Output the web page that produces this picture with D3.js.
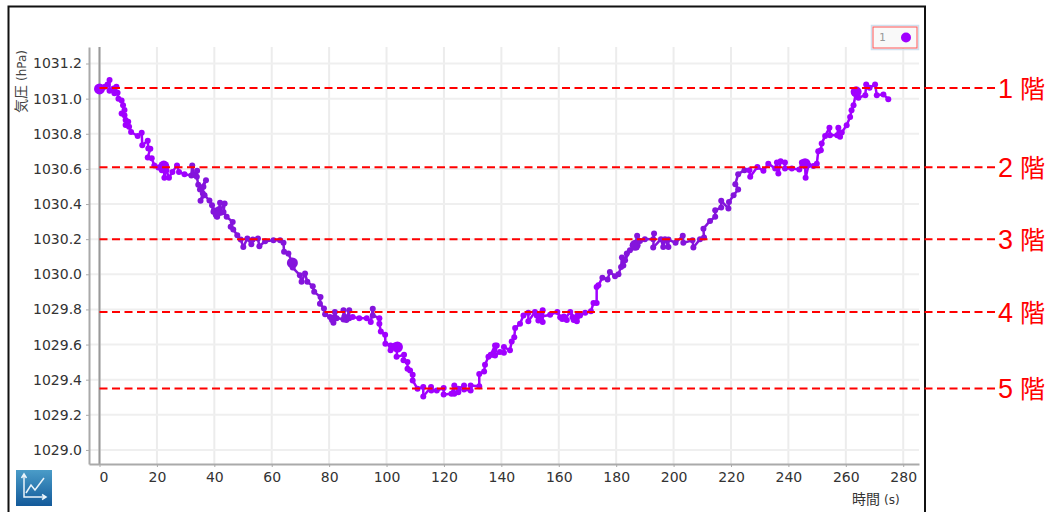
<!DOCTYPE html>
<html>
<head>
<meta charset="utf-8">
<style>
  html, body { margin: 0; padding: 0; background: #fff; overflow: hidden; }
  .axis text { font-family: "DejaVu Sans", sans-serif; font-size: 14px; fill: #333; }
</style>
<script src="https://cdn.jsdelivr.net/npm/d3@7"></script>
</head>
<body>
<div id="chart"></div>
<script>
// values
var seconds = [0,1.9,2.8,3.5,3.5,4.9,5.9,5.2,6.3,6.6,7.7,8.2,8.7,7.7,8.7,9.1,10,9.1,10.3,11,13.3,14.7,14.9,16.8,17,17.7,16.8,18.2,19.1,20.5,21.7,22.4,22.6,23.3,24.2,25.4,27,27.7,29.6,32,32.3,33,34,33.9,34.4,35,37.1,36.2,36,35.2,36.6,38.3,39.2,39.7,41,39.9,40.5,41.5,40.8,42.3,42,41.4,43.6,43.2,44.3,46.4,45.7,46.6,48,49.2,50.1,51.5,52.9,53.4,55.2,55.7,57.7,60.6,62.9,64.1,64.3,65.8,67.2,67.3,69.8,70.4,71.6,72.4,74.3,74.8,77,76.8,78.2,78.6,80.3,81.5,82,82.6,81,81.8,85,85,85.9,85.3,86,87,87,88.2,90.5,93.1,94.5,95.2,95.2,97.5,97.5,98,99.5,99.6,101.4,101.4,102.9,103.8,103.5,106.1,105.9,107.3,107.3,108.2,109.1,109.1,110.8,112.8,112.8,115.5,115.6,117.5,119.9,119.9,122.6,123.6,123.6,125,125,127,127,129.3,129.3,132.3,132.3,134,134.3,135.5,136.3,137.8,137,138.4,137.8,139.5,140.9,140.9,143,143.6,144.5,144.8,146.5,147.7,149.4,149.4,151.7,152.3,152.9,153.5,154.4,154.4,153.7,152.8,153.3,154,153,157,159.5,160.5,161.2,161.8,162.8,162.2,164,165.7,164.8,165.2,166.5,166.3,167.4,169.2,171.2,172.1,173.2,173.2,173.8,175.2,177,177.8,179.6,180.8,181.7,182,182.5,183.7,183.1,184.8,186.6,187.3,188.3,190,192.9,193.2,192.9,195.6,196.4,197,198.2,198.2,200.7,203.2,203.4,206.6,206.9,209.2,210.6,210.4,212.7,214.5,214.5,216.6,216.6,219.1,219.3,220.9,222.5,221.5,222.5,224.7,226.4,226.7,229.2,231.3,233,235.4,236,236.5,237.3,238.8,238.8,241.2,243.8,244.7,245.8,246,247,248.7,249.9,250.4,251.3,251.6,252.8,254.3,254.5,257,257.4,258,258.6,260.3,261.5,262,262.7,263.6,264.4,266.8,267.1,268.3,270.2,270.8,273.1,274.8];
var pressure = [1031.055,1031.068,1031.08,1031.106,1031.045,1031.058,1031.068,1031.03,1031.034,1031,1030.99,1030.963,1030.935,1030.916,1030.906,1030.878,1030.868,1030.85,1030.84,1030.81,1030.787,1030.806,1030.735,1030.76,1030.716,1030.715,1030.665,1030.66,1030.62,1030.608,1030.593,1030.616,1030.55,1030.593,1030.55,1030.583,1030.62,1030.583,1030.57,1030.563,1030.62,1030.565,1030.59,1030.555,1030.51,1030.483,1030.536,1030.498,1030.46,1030.418,1030.45,1030.42,1030.393,1030.356,1030.327,1030.365,1030.34,1030.37,1030.33,1030.35,1030.407,1030.346,1030.403,1030.355,1030.327,1030.298,1030.27,1030.255,1030.222,1030.198,1030.156,1030.204,1030.171,1030.198,1030.204,1030.16,1030.188,1030.194,1030.194,1030.179,1030.128,1030.118,1030.065,1030.038,1029.995,1029.957,1030.004,1029.957,1029.932,1029.9,1029.871,1029.833,1029.805,1029.772,1029.757,1029.724,1029.785,1029.75,1029.74,1029.755,1029.743,1029.795,1029.747,1029.76,1029.74,1029.795,1029.75,1029.757,1029.75,1029.75,1029.728,1029.804,1029.766,1029.75,1029.718,1029.675,1029.656,1029.605,1029.595,1029.567,1029.595,1029.586,1029.53,1029.542,1029.51,1029.5,1029.462,1029.452,1029.428,1029.396,1029.348,1029.358,1029.304,1029.358,1029.338,1029.338,1029.352,1029.316,1029.32,1029.367,1029.32,1029.329,1029.348,1029.367,1029.344,1029.338,1029.367,1029.363,1029.433,1029.447,1029.485,1029.53,1029.542,1029.595,1029.542,1029.595,1029.538,1029.557,1029.553,1029.586,1029.567,1029.618,1029.642,1029.694,1029.718,1029.766,1029.781,1029.732,1029.785,1029.766,1029.737,1029.775,1029.795,1029.728,1029.756,1029.77,1029.745,1029.775,1029.755,1029.77,1029.785,1029.756,1029.745,1029.76,1029.74,1029.747,1029.785,1029.747,1029.755,1029.74,1029.765,1029.732,1029.766,1029.781,1029.789,1029.837,1029.837,1029.928,1029.937,1029.981,1029.97,1030.013,1029.989,1030,1030.042,1030.095,1030.05,1030.118,1030.08,1030.137,1030.165,1030.22,1030.19,1030.2,1030.2,1030.232,1030.152,1030.2,1030.156,1030.2,1030.156,1030.198,1030.179,1030.219,1030.179,1030.194,1030.152,1030.2,1030.209,1030.26,1030.304,1030.327,1030.365,1030.38,1030.418,1030.375,1030.412,1030.45,1030.483,1030.513,1030.57,1030.593,1030.592,1030.555,1030.611,1030.589,1030.63,1030.602,1030.636,1030.574,1030.644,1030.636,1030.602,1030.602,1030.596,1030.636,1030.63,1030.549,1030.621,1030.617,1030.63,1030.7,1030.706,1030.744,1030.788,1030.834,1030.792,1030.792,1030.834,1030.783,1030.807,1030.849,1030.896,1030.934,1030.963,1031.039,1031.005,1031.02,1031.081,1031.062,1031.081,1031.02,1031.024,1030.997];
var bigSeconds = [0,22.4,67.2,103.8,186.6,245.8,263.6];
var darkSpans = [[32,88],[95,95.5],[175,226]];
var floors = ["1","2","3","4","5"];
var floorPressure = [1031.06,1030.61,1030.2,1029.785,1029.35];
var xTicks = d3.range(0,281,20);
var yTicks = [1029,1029.2,1029.4,1029.6,1029.8,1030,1030.2,1030.4,1030.6,1030.8,1031,1031.2];

var width = 1055, height = 512;
var svg = d3.select("#chart").append("svg")
	.attr("width", width)
	.attr("height", height)
	.style("display", "block");

// Scale
var xScale = d3.scaleLinear().domain([-3.66,285.5]).range([89,919]);
var yScale = d3.scaleLinear().domain([1028.92,1031.294]).range([464,47]);

// frame round the screenshot of the app (no bottom edge)
svg.append("path")
	.attr("d", "M8.5,512V6.5H925V512")
	.attr("fill", "none")
	.attr("stroke", "#111")
	.attr("stroke-width", 2);

// grid
svg.append("g").selectAll("line").data(xTicks).enter().append("line")
	.attr("x1", function(d){ return xScale(d); })
	.attr("x2", function(d){ return xScale(d); })
	.attr("y1", 47).attr("y2", 464)
	.attr("stroke", "#ececec").attr("stroke-width", 2);
svg.append("g").selectAll("line").data(yTicks).enter().append("line")
	.attr("x1", 89).attr("x2", 919)
	.attr("y1", function(d){ return yScale(d); })
	.attr("y2", function(d){ return yScale(d); })
	.attr("stroke", "#efefef").attr("stroke-width", 2);

// zero line
svg.append("line")
	.attr("x1", xScale(0)).attr("x2", xScale(0))
	.attr("y1", 47).attr("y2", 464)
	.attr("stroke", "#999").attr("stroke-width", 2);

// Axis
var xAxis = d3.axisBottom(xScale).tickValues(xTicks).tickSize(3).tickPadding(5).tickSizeOuter(0);
var yAxis = d3.axisLeft(yScale).tickValues(yTicks).tickSize(3).tickPadding(4).tickSizeOuter(0)
	.tickFormat(d3.format(".1f"));
var gx = svg.append("g").attr("class", "axis").attr("transform", "translate(0,464)").call(xAxis);
var gy = svg.append("g").attr("class", "axis").attr("transform", "translate(89,0)").call(yAxis);
gx.selectAll(".domain, .tick line").attr("stroke", "#aaa");
gy.selectAll(".domain, .tick line").attr("stroke", "#aaa");
gx.select(".domain").attr("stroke-width", 2);
gy.select(".domain").attr("stroke-width", 2);
gx.selectAll(".tick text").attr("dx", function(d){ return d === 0 ? 4 : 0; });

// axis labels
var cjk = '"Noto Sans CJK JP", sans-serif';
var yLabel = svg.append("text")
	.attr("transform", "translate(26,113) rotate(-90)")
	.attr("fill", "#444");
yLabel.append("tspan").attr("font-family", cjk).attr("font-size", 14).text("気圧");
yLabel.append("tspan").attr("font-family", "DejaVu Sans").attr("font-size", 12).attr("dx", 4).text("(hPa)");
var xLabel = svg.append("text")
	.attr("x", 852).attr("y", 504)
	.attr("fill", "#333");
xLabel.append("tspan").attr("font-family", cjk).attr("font-size", 14).text("時間");
xLabel.append("tspan").attr("font-family", "DejaVu Sans").attr("font-size", 12).attr("dx", 4).text("(s)");

// series
var points = seconds.map(function(s, i){ return {t: s, v: pressure[i]}; });
function pointColor(d){
	var dark = darkSpans.some(function(s){ return d.t >= s[0] && d.t <= s[1]; });
	return dark ? "#8414dc" : "#a000ff";
}
svg.append("g").selectAll("line").data(d3.pairs(points)).enter().append("line")
	.attr("x1", function(d){ return xScale(d[0].t); })
	.attr("y1", function(d){ return yScale(d[0].v); })
	.attr("x2", function(d){ return xScale(d[1].t); })
	.attr("y2", function(d){ return yScale(d[1].v); })
	.attr("stroke", function(d){ return pointColor(d[0]); })
	.attr("stroke-width", 2.5);
svg.append("g").selectAll("circle").data(points).enter().append("circle")
	.attr("cx", function(d){ return xScale(d.t); })
	.attr("cy", function(d){ return yScale(d.v); })
	.attr("r", function(d){ return bigSeconds.indexOf(d.t) >= 0 ? 5.5 : 3; })
	.attr("fill", pointColor);

// floor reference lines
svg.append("g").selectAll("line").data(floorPressure).enter().append("line")
	.attr("x1", xScale(0)).attr("x2", 995)
	.attr("y1", function(d){ return yScale(d); })
	.attr("y2", function(d){ return yScale(d); })
	.attr("stroke", "#f00").attr("stroke-width", 2)
	.attr("stroke-dasharray", "8,4.5");
var floorLabels = svg.append("g").selectAll("g").data(floors).enter().append("g")
	.attr("transform", function(d, i){ return "translate(998," + (yScale(floorPressure[i]) + 10) + ")"; });
floorLabels.append("text")
	.attr("font-family", "Liberation Sans")
	.attr("font-size", 27)
	.attr("fill", "#f00")
	.text(function(d){ return d; });
floorLabels.append("text")
	.attr("x", 22)
	.attr("y", 0)
	.attr("font-family", cjk)
	.attr("font-size", 25)
	.attr("fill", "#f00")
	.text("階");

// legend
svg.append("rect").attr("x", 871.5).attr("y", 25.5).attr("width", 47).attr("height", 24)
	.attr("fill", "none").attr("stroke", "#cfe0ee").attr("stroke-width", 1.5);
svg.append("rect").attr("x", 873).attr("y", 27).attr("width", 44).attr("height", 21)
	.attr("fill", "#f9f9f9").attr("stroke", "#f55").attr("stroke-width", 1);
svg.append("text").attr("x", 879).attr("y", 41)
	.attr("font-family", "DejaVu Sans Mono").attr("font-size", 11).attr("fill", "#999").text("1");
svg.append("circle").attr("cx", 906).attr("cy", 37.5).attr("r", 5).attr("fill", "#a000ff");

// app icon
var grad = svg.append("defs").append("linearGradient")
	.attr("id", "iconGrad").attr("x1", 0).attr("y1", 0).attr("x2", 0).attr("y2", 1);
grad.append("stop").attr("offset", "0").attr("stop-color", "#4a9cc8");
grad.append("stop").attr("offset", "1").attr("stop-color", "#135a9a");
svg.append("rect").attr("x", 16).attr("y", 470).attr("width", 36).attr("height", 36).attr("fill", "url(#iconGrad)");
svg.append("path")
	.attr("d", "M24,474V497H46M21.5,478L24,474L26.5,478M42,494.5L46,497L42,499.5M26,493L31,485L35,490L44,478")
	.attr("fill", "none").attr("stroke", "#eaf4fa").attr("stroke-width", 1.5);
</script>
</body>
</html>
